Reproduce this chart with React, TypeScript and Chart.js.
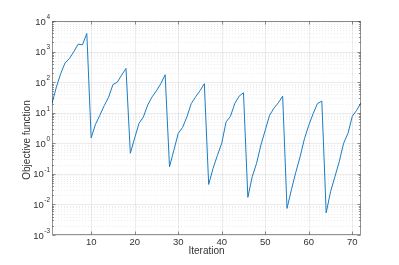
import React, { useEffect, useRef } from "react";
import { Chart, registerables } from "chart.js";

Chart.register(...registerables);

const iterations = [
  1, 2, 3, 4, 5, 6, 7, 8, 9, 10, 11, 12, 13, 14, 15, 16, 17, 18, 19, 20, 21, 22, 23, 24,
  25, 26, 27, 28, 29, 30, 31, 32, 33, 34, 35, 36, 37, 38, 39, 40, 41, 42, 43, 44, 45, 46, 47, 48,
  49, 50, 51, 52, 53, 54, 55, 56, 57, 58, 59, 60, 61, 62, 63, 64, 65, 66, 67, 68, 69, 70, 71, 72,
];

const objective = [
  20, 69, 190, 425, 590, 980, 1740, 1660, 3900,
  1.5, 4.2, 8.3, 17, 32, 83, 100, 170, 280,
  0.47, 1.5, 4.5, 7.3, 18, 33, 52, 89, 175,
  0.17, 0.59, 2.1, 3.3, 7.3, 20, 33, 52, 89,
  0.045, 0.15, 0.4, 1.0, 5.0, 7.6, 20, 35, 45,
  0.017, 0.08, 0.22, 0.87, 2.7, 8.3, 14, 21, 35,
  0.0074, 0.03, 0.11, 0.36, 1.4, 3.9, 9.3, 20, 24,
  0.0053, 0.026, 0.08, 0.25, 1.0, 2.1, 7.6, 12, 21,
];

const xTicks = [10, 20, 30, 40, 50, 60, 70];
const yExponents = [-3, -2, -1, 0, 1, 2, 3, 4];
const minorMultipliers = [2, 3, 4, 5, 6, 7, 8, 9];
const xTitle = "Iteration";
const yTitle = "Objective function";

const FONT = "Helvetica, 'Liberation Sans', Arial, sans-serif";
const TEXT_COLOR = "#333333";
const AXIS_COLOR = "rgba(38,38,38,0.5)";

const matlabPlugin = {
  id: "matlabAxes",
  beforeDatasetsDraw(chart: any) {
    const { ctx, chartArea } = chart;
    const xs = chart.scales.x;
    const ys = chart.scales.y;
    const { left, right, top, bottom } = chartArea;
    ctx.save();
    ctx.lineWidth = 1;
    ctx.setLineDash([1, 2]);
    ctx.strokeStyle = "rgba(0,0,0,0.07)";
    for (const e of yExponents) {
      for (const m of minorMultipliers) {
        const v = m * Math.pow(10, e);
        if (v >= ys.max) continue;
        const y = Math.round(ys.getPixelForValue(v)) + 0.5;
        ctx.beginPath();
        ctx.moveTo(left, y);
        ctx.lineTo(right, y);
        ctx.stroke();
      }
    }
    ctx.setLineDash([]);
    ctx.strokeStyle = "rgba(0,0,0,0.075)";
    for (const e of yExponents) {
      const y = Math.round(ys.getPixelForValue(Math.pow(10, e))) + 0.5;
      ctx.beginPath();
      ctx.moveTo(left, y);
      ctx.lineTo(right, y);
      ctx.stroke();
    }
    for (const t of xTicks) {
      const x = Math.round(xs.getPixelForValue(t)) + 0.5;
      ctx.beginPath();
      ctx.moveTo(x, top);
      ctx.lineTo(x, bottom);
      ctx.stroke();
    }
    ctx.restore();
  },
  afterDatasetsDraw(chart: any) {
    const { ctx, chartArea } = chart;
    const xs = chart.scales.x;
    const ys = chart.scales.y;
    const { left, right, top, bottom } = chartArea;
    const L = Math.round(left) + 0.5;
    const R = Math.round(right) - 0.5;
    const T = Math.round(top) + 0.5;
    const B = Math.round(bottom) - 0.5;
    ctx.save();
    ctx.strokeStyle = AXIS_COLOR;
    ctx.lineWidth = 1;
    ctx.strokeRect(L, T, R - L, B - T);
    ctx.beginPath();
    for (const t of xTicks) {
      const x = Math.round(xs.getPixelForValue(t)) + 0.5;
      ctx.moveTo(x, B);
      ctx.lineTo(x, B - 3);
      ctx.moveTo(x, T);
      ctx.lineTo(x, T + 3);
    }
    for (const e of yExponents) {
      const y = Math.round(ys.getPixelForValue(Math.pow(10, e))) + 0.5;
      ctx.moveTo(L, y);
      ctx.lineTo(L + 3, y);
      ctx.moveTo(R, y);
      ctx.lineTo(R - 3, y);
      for (const m of minorMultipliers) {
        const v = m * Math.pow(10, e);
        if (v >= ys.max) continue;
        const ym = Math.round(ys.getPixelForValue(v)) + 0.5;
        ctx.moveTo(L, ym);
        ctx.lineTo(L + 1.5, ym);
        ctx.moveTo(R, ym);
        ctx.lineTo(R - 1.5, ym);
      }
    }
    ctx.stroke();

    ctx.fillStyle = TEXT_COLOR;
    ctx.font = `9.5px ${FONT}`;
    ctx.textAlign = "center";
    ctx.textBaseline = "top";
    for (const t of xTicks) {
      ctx.fillText(String(t), xs.getPixelForValue(t), bottom + 3);
    }
    for (const e of yExponents) {
      const y = ys.getPixelForValue(Math.pow(10, e));
      const exp = String(e);
      ctx.font = `6.5px ${FONT}`;
      const ew = ctx.measureText(exp).width;
      ctx.textAlign = "right";
      ctx.textBaseline = "middle";
      const rx = left - 2;
      ctx.fillText(exp, rx, y - 4);
      ctx.font = `9.5px ${FONT}`;
      ctx.fillText("10", rx - ew - 0.5, y + 1);
    }
    ctx.font = `10px ${FONT}`;
    ctx.textAlign = "center";
    ctx.textBaseline = "middle";
    ctx.fillText(xTitle, (left + right) / 2, 251);
    ctx.save();
    ctx.translate(27, 140);
    ctx.rotate(-Math.PI / 2);
    ctx.fillText(yTitle, 0, 0);
    ctx.restore();
    ctx.restore();
  },
};

export default function App() {
  const canvasRef = useRef<HTMLCanvasElement | null>(null);

  useEffect(() => {
    const canvas = canvasRef.current;
    if (!canvas) return;
    const chart = new Chart(canvas, {
      type: "line",
      data: {
        datasets: [
          {
            data: iterations.map((x, i) => ({ x, y: objective[i] })),
            borderColor: "#1a7cc4",
            borderWidth: 1,
            pointRadius: 0,
            tension: 0,
            fill: false,
          },
        ],
      },
      options: {
        animation: false,
        responsive: false,
        devicePixelRatio: 1,
        layout: { padding: { left: 52, right: 38, top: 21, bottom: 30 } },
        plugins: { legend: { display: false }, tooltip: { enabled: false } },
        scales: {
          x: { type: "linear", min: 1, max: 72, display: false },
          y: { type: "logarithmic", min: 1e-3, max: 1e4, display: false },
        },
      },
      plugins: [matlabPlugin],
    });
    return () => chart.destroy();
  }, []);

  return (
    <div style={{ position: "fixed", left: 0, top: 0, width: 399, height: 265, background: "#fff" }}>
      <canvas ref={canvasRef} width={399} height={265} style={{ display: "block" }} />
    </div>
  );
}
